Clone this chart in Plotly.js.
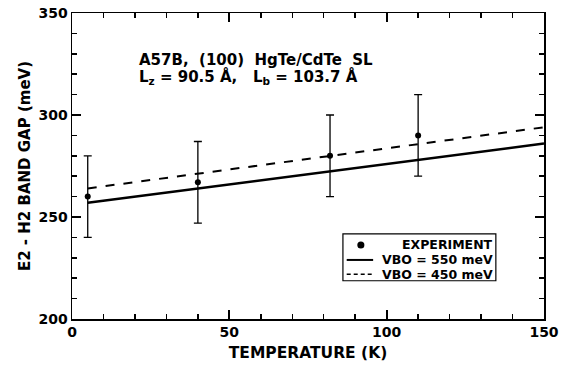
<!DOCTYPE html>
<html><head><meta charset="utf-8">
<script src="https://cdn.plot.ly/plotly-3.0.1.min.js"></script>
<style>body{margin:0;background:#fff}#c{width:567px;height:368px}</style>
</head><body><div id="c"></div>
<script>
const expT = [5, 40, 82, 110];
const expGap = [260, 267, 280, 290];
const expErr = [20, 20, 20, 20];
const modelT = [5, 150];
const vbo550 = [257, 286];
const vbo450 = [264, 294];
const legendLabels = ['EXPERIMENT', 'VBO = 550 meV', 'VBO = 450 meV'];
const FAM = 'DejaVu Sans, sans-serif';
function f(size) { return {family: FAM, size: size, color: '#000', weight: 'bold'}; }
const traces = [
  {x: expT, y: expGap, mode: 'markers', name: legendLabels[0], type: 'scatter',
   marker: {color: '#000', size: 6},
   error_y: {type: 'data', array: expErr, visible: true, color: '#000', thickness: 1.3, width: 4}},
  {x: modelT, y: vbo550, mode: 'lines', name: legendLabels[1], type: 'scatter',
   line: {color: '#000', width: 2.5}},
  {x: modelT, y: vbo450, mode: 'lines', name: legendLabels[2], type: 'scatter',
   line: {color: '#000', width: 2, dash: 'dash'}}
];
const rowY = [0.242, 0.193, 0.146];
const shapes = [
  {type: 'rect', xref: 'paper', yref: 'paper', x0: 0.574, x1: 0.898, y0: 0.125, y1: 0.278,
   line: {color: '#000', width: 1.2}, fillcolor: '#fff', layer: 'above'},
  {type: 'circle', xref: 'paper', yref: 'paper', x0: 0.612 - 0.0075, x1: 0.612 + 0.0075,
   y0: rowY[0] - 0.0115, y1: rowY[0] + 0.0115, fillcolor: '#000', line: {color: '#000', width: 0}, layer: 'above'},
  {type: 'line', xref: 'paper', yref: 'paper', x0: 0.582, x1: 0.638, y0: rowY[1], y1: rowY[1],
   line: {color: '#000', width: 2}, layer: 'above'},
  {type: 'line', xref: 'paper', yref: 'paper', x0: 0.582, x1: 0.638, y0: rowY[2], y1: rowY[2],
   line: {color: '#000', width: 1.6, dash: '4px,3px'}, layer: 'above'}
];
const annotations = [
  {xref: 'paper', yref: 'paper', x: 0.138, y: 0.845, xanchor: 'left', yanchor: 'middle', showarrow: false, align: 'left',
   text: 'A57B,&nbsp; (100)&nbsp; HgTe/CdTe&nbsp; SL', font: f(15)},
  {xref: 'paper', yref: 'paper', x: 0.138, y: 0.792, xanchor: 'left', yanchor: 'middle', showarrow: false, align: 'left',
   text: 'L<sub>z</sub> = 90.5 Å,&nbsp;&nbsp; L<sub>b</sub> = 103.7 Å', font: f(15)}
];
legendLabels.forEach((t, i) => annotations.push({
  xref: 'paper', yref: 'paper', x: 0.896, y: rowY[i], xanchor: 'right', yanchor: 'middle',
  showarrow: false, text: t, font: f(12.5)}));
function makeAxis(range, title, titleSize, standoff) {
  return {range: range, showgrid: false, zerolinecolor: 'black', zerolinewidth: 1.5,
    showline: true, linecolor: 'black', linewidth: 1.5,
    mirror: 'allticks', ticks: 'inside', ticklen: 9, tickwidth: 2, tickcolor: 'black',
    tickfont: f(14), tick0: 0, dtick: 50,
    minor: {ticks: 'inside', ticklen: 5, tickwidth: 1.5, tickcolor: 'black', dtick: 10},
    title: {text: title, font: f(titleSize), standoff: standoff}};
}
const layout = {
  width: 567, height: 368,
  margin: {l: 72, r: 23, t: 13, b: 49},
  showlegend: false,
  xaxis: makeAxis([0, 150], 'TEMPERATURE (K)', 15.5, 8),
  yaxis: makeAxis([200, 350], 'E2 - H2 BAND GAP (meV)', 15, 4),
  shapes: shapes,
  annotations: annotations
};
Plotly.newPlot('c', traces, layout, {displayModeBar: false, staticPlot: true});
</script></body></html>
